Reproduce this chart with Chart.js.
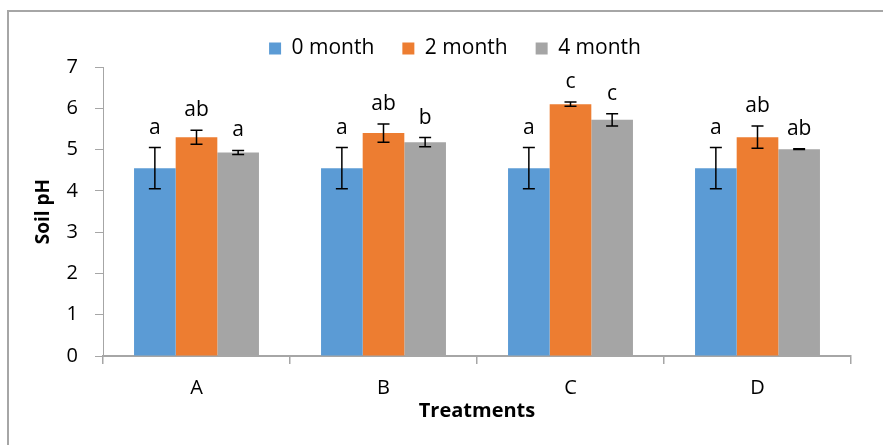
<!DOCTYPE html>
<html>
<head>
<meta charset="utf-8">
<script src="https://cdn.jsdelivr.net/npm/chart.js@4"></script>
<style>
  body { margin: 0; background: #fff; }
  #wrap { position: relative; width: 883px; height: 445px; overflow: hidden; }
  #frame { position: absolute; left: 7px; top: 10px; width: 900px; height: 500px;
           border-left: 2px solid #a6a6a6; border-top: 2px solid #a6a6a6; }
  canvas { position: absolute; left: 0; top: 0; }
</style>
</head>
<body>
<div id="wrap">
  <div id="frame"></div>
  <canvas id="phChart" width="883" height="445"></canvas>
</div>
<script>
// Soil pH by treatment and time
const categories = ["A", "B", "C", "D"];
const seriesNames = ["0 month", "2 month", "4 month"];
const month0 = [4.55, 4.55, 4.55, 4.55];
const month2 = [5.3, 5.4, 6.1, 5.3];
const month4 = [4.93, 5.18, 5.72, 5.01];
const month0Err = [0.5, 0.5, 0.5, 0.5];
const month2Err = [0.17, 0.22, 0.05, 0.27];
const month4Err = [0.05, 0.11, 0.15, 0.01];
const month0Letters = ["a", "a", "a", "a"];
const month2Letters = ["ab", "ab", "c", "ab"];
const month4Letters = ["a", "b", "c", "ab"];
const yTicks = [0, 1, 2, 3, 4, 5, 6, 7];

const colors = ["#5B9BD5", "#ED7D31", "#A5A5A5"];
const errs = [month0Err, month2Err, month4Err];
const letters = [month0Letters, month2Letters, month4Letters];
const FONT = "'Open Sans', sans-serif";

// error bars + significance letters
const errorBars = {
  id: "errorBars",
  afterDatasetsDraw(chart) {
    const ctx = chart.ctx;
    const y = chart.scales.y;
    chart.data.datasets.forEach((ds, i) => {
      chart.getDatasetMeta(i).data.forEach((bar, j) => {
        const v = ds.data[j], e = errs[i][j];
        const top = y.getPixelForValue(v + e);
        const bot = y.getPixelForValue(v - e);
        ctx.save();
        ctx.strokeStyle = "#000";
        ctx.lineWidth = 1.5;
        ctx.beginPath();
        ctx.moveTo(bar.x, top); ctx.lineTo(bar.x, bot);
        ctx.moveTo(bar.x - 6, top); ctx.lineTo(bar.x + 6, top);
        ctx.moveTo(bar.x - 6, bot); ctx.lineTo(bar.x + 6, bot);
        ctx.stroke();
        ctx.fillStyle = "#000";
        ctx.font = "21px " + FONT;
        ctx.textAlign = "center";
        ctx.textBaseline = "alphabetic";
        ctx.fillText(letters[i][j], bar.x, top - 14);
        ctx.restore();
      });
    });
  }
};

new Chart(document.getElementById("phChart"), {
  type: "bar",
  data: {
    labels: categories,
    datasets: [
      { label: seriesNames[0], data: month0, backgroundColor: colors[0] },
      { label: seriesNames[1], data: month2, backgroundColor: colors[1] },
      { label: seriesNames[2], data: month4, backgroundColor: colors[2] }
    ]
  },
  options: {
    responsive: false,
    animation: false,
    categoryPercentage: 0.668,
    barPercentage: 1,
    layout: { padding: { left: 59, right: 32, top: 10, bottom: 0 } },
    plugins: {
      legend: {
        position: "top",
        maxHeight: 57,
        labels: {
          boxWidth: 12, boxHeight: 12, padding: 28,
          color: "#000", font: { family: FONT, size: 21 }
        }
      },
      tooltip: { enabled: false }
    },
    scales: {
      x: {
        afterFit(s) { s.height = 89; },
        grid: { drawOnChartArea: false, color: "#a6a6a6", tickLength: 8, lineWidth: 1.5 },
        border: { color: "#a6a6a6", width: 2 },
        ticks: { color: "#000", padding: 12, font: { family: FONT, size: 20 } },
        title: { display: true, text: "Treatments", color: "#000",
                 padding: { top: 0, bottom: 22 },
                 font: { family: FONT, size: 20, weight: "bold" } }
      },
      y: {
        min: 0, max: 7,
        afterFit(s) { s.width = 44; },
        afterBuildTicks(s) { s.ticks = yTicks.map(v => ({ value: v })); },
        grid: { drawOnChartArea: false, color: "#a6a6a6", tickLength: 8 },
        border: { color: "#a6a6a6", width: 1 },
        ticks: { color: "#000", padding: 17, font: { family: FONT, size: 20 } },
        title: { display: true, text: "Soil pH", color: "#000",
                 padding: { top: -27, bottom: 0 },
                 font: { family: FONT, size: 19, weight: "bold" } }
      }
    }
  },
  plugins: [errorBars]
});
</script>
</body>
</html>
